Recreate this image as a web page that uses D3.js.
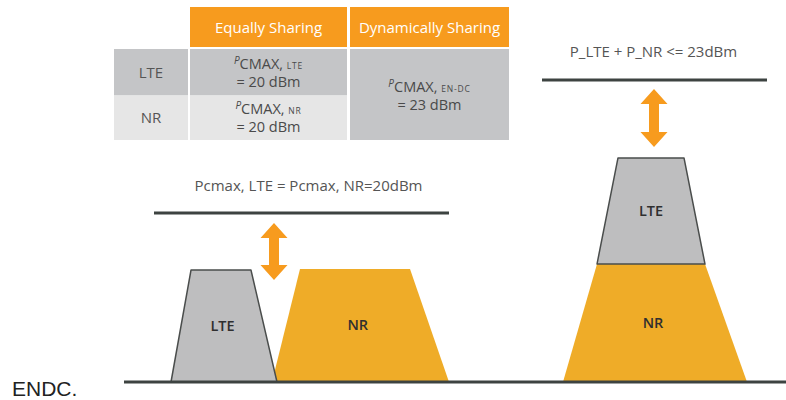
<!DOCTYPE html>
<html>
<head>
<meta charset="utf-8">
<script src="https://cdn.jsdelivr.net/npm/d3@7"></script>
<style>
  html, body { margin: 0; padding: 0; background: #fff; }
  svg { display: block; }
</style>
</head>
<body>
<svg id="chart" width="786" height="400"></svg>
<script>
// ---------- data ----------
const headers = ["Equally Sharing", "Dynamically Sharing"];
const rowLabels = ["LTE", "NR"];
const equalSym = ["CMAX,", "CMAX,"];
const equalSub = ["LTE", "NR"];
const equalVal = ["= 20 dBm", "= 20 dBm"];
const dynamicSub = "EN-DC";
const dynamicVal = "= 23 dBm";

const leftTitle = "Pcmax, LTE = Pcmax, NR=20dBm";
const rightTitle = "P_LTE + P_NR <= 23dBm";
const footLabel = "ENDC.";

// power levels (arbitrary units above the baseline)
const leftLimit = 56.3;
const rightLimit = 100.7;
const leftArrow = [34, 53];
const rightArrow = [78.3, 97.7];
// trapezoids: bottom-left, bottom-right, top-left, top-right x; bottom & top level
const trapezoids = [
  { name: "NR",  side: "left",  xb: [272, 449], xt: [300, 410], lv: [0, 37.7] },
  { name: "LTE", side: "left",  xb: [171, 277], xt: [191, 251], lv: [0, 37.3] },
  { name: "NR",  side: "right", xb: [563, 747], xt: [597, 705], lv: [0, 39.3] },
  { name: "LTE", side: "right", xb: [597, 705], xt: [618, 684], lv: [39.3, 74.7] }
];
const leftSpan = [154, 449];
const rightSpan = [542, 767];
const baseSpan = [124, 786];

// ---------- scales ----------
const x = d3.scaleLinear().domain([0, 786]).range([0, 786]);
const y = d3.scaleLinear().domain([0, 100]).range([382, 82]);

const svg = d3.select("#chart");
const ORANGE_H = "#F79B1E";
const ORANGE_NR = "#EFAC28";
const GRAY_D = "#C4C5C7";
const GRAY_L = "#E6E6E6";
const LINE = "#3D4341";
const tableFont = "'Open Sans', 'Noto Sans', sans-serif";

// ---------- table ----------
const colX = d3.scaleOrdinal().domain(["label", "equal", "dyn"]).range([[114, 188], [190, 347], [350, 509]]);
const rowY = d3.scaleOrdinal().domain(["head", "LTE", "NR"]).range([[7, 47], [49, 95.5], [95.5, 140]]);
const tbl = svg.append("g");

// header
headers.forEach((h, i) => {
  const c = colX(i === 0 ? "equal" : "dyn"), r = rowY("head");
  tbl.append("rect").attr("x", c[0]).attr("y", r[0]).attr("width", c[1] - c[0]).attr("height", r[1] - r[0]).attr("fill", ORANGE_H);
  tbl.append("text").attr("x", (c[0] + c[1]) / 2).attr("y", (r[0] + r[1]) / 2 + 5.5)
    .attr("text-anchor", "middle").attr("fill", "#fff").attr("font-family", tableFont)
    .attr("font-size", 15).text(h);
});

// rows
rowLabels.forEach((lab, i) => {
  const r = rowY(lab);
  const fill = i === 0 ? GRAY_D : GRAY_L;
  ["label", "equal"].forEach(k => {
    const c = colX(k);
    tbl.append("rect").attr("x", c[0]).attr("y", r[0]).attr("width", c[1] - c[0]).attr("height", r[1] - r[0]).attr("fill", fill);
  });
  const cl = colX("label");
  tbl.append("text").attr("x", (cl[0] + cl[1]) / 2).attr("y", (r[0] + r[1]) / 2 + 5.5)
    .attr("text-anchor", "middle").attr("fill", "#555").attr("font-family", tableFont)
    .attr("font-size", 15).text(lab);
  const ce = colX("equal");
  const cx = (ce[0] + ce[1]) / 2, cy = (r[0] + r[1]) / 2;
  const t1 = tbl.append("text").attr("x", cx).attr("y", cy - 3.5).attr("text-anchor", "middle")
    .attr("fill", "#4a4a4a").attr("font-family", tableFont).attr("font-size", 14.5);
  t1.append("tspan").attr("font-size", 10).attr("font-style", "italic").attr("dy", -5).text("P");
  t1.append("tspan").attr("dy", 5).text(equalSym[i] + " ");
  t1.append("tspan").attr("font-size", 8.5).attr("letter-spacing", 0.8).text(equalSub[i]);
  tbl.append("text").attr("x", cx).attr("y", cy + 14.5).attr("text-anchor", "middle")
    .attr("fill", "#4a4a4a").attr("font-family", tableFont).attr("font-size", 14.5).text(equalVal[i]);
});

// dynamic cell
{
  const c = colX("dyn"), r0 = rowY("LTE")[0], r1 = rowY("NR")[1];
  tbl.append("rect").attr("x", c[0]).attr("y", r0).attr("width", c[1] - c[0]).attr("height", r1 - r0).attr("fill", GRAY_D);
  const cx = (c[0] + c[1]) / 2, cy = (r0 + r1) / 2;
  const t1 = tbl.append("text").attr("x", cx).attr("y", cy - 2.5).attr("text-anchor", "middle")
    .attr("fill", "#4a4a4a").attr("font-family", tableFont).attr("font-size", 14.5);
  t1.append("tspan").attr("font-size", 10).attr("font-style", "italic").attr("dy", -5).text("P");
  t1.append("tspan").attr("dy", 5).text("CMAX, ");
  t1.append("tspan").attr("font-size", 8.5).attr("letter-spacing", 0.8).text(dynamicSub);
  tbl.append("text").attr("x", cx).attr("y", cy + 15.5).attr("text-anchor", "middle")
    .attr("fill", "#4a4a4a").attr("font-family", tableFont).attr("font-size", 14.5).text(dynamicVal);
}

// ---------- diagrams ----------
const g = svg.append("g");
const line = d3.line().x(d => x(d[0])).y(d => y(d[1]));

// trapezoids
trapezoids.forEach(t => {
  const pts = [[t.xb[0], t.lv[0]], [t.xt[0], t.lv[1]], [t.xt[1], t.lv[1]], [t.xb[1], t.lv[0]]];
  const isLte = t.name === "LTE";
  g.append("path").attr("d", line(pts) + "Z")
    .attr("fill", isLte ? "#BEBEBF" : ORANGE_NR)
    .attr("stroke", isLte ? "#4a4d4c" : "none")
    .attr("stroke-width", isLte ? 1.5 : 0)
    .attr("stroke-linejoin", "round");
  const cxm = x((t.xb[0] + t.xb[1] + t.xt[0] + t.xt[1]) / 4);
  const cym = y((t.lv[0] + t.lv[1]) / 2);
  g.append("text").attr("x", cxm).attr("y", cym + 5).attr("text-anchor", "middle")
    .attr("fill", "#2f2f2f").attr("font-family", tableFont).attr("font-weight", 600)
    .attr("font-size", 14.5).text(t.name);
});

// limit lines and baseline
[[leftSpan, leftLimit], [rightSpan, rightLimit]].forEach(([s, lv]) => {
  g.append("line").attr("x1", x(s[0])).attr("x2", x(s[1])).attr("y1", y(lv)).attr("y2", y(lv))
    .attr("stroke", LINE).attr("stroke-width", 3);
});
g.append("line").attr("x1", x(baseSpan[0])).attr("x2", x(baseSpan[1])).attr("y1", y(0)).attr("y2", y(0))
  .attr("stroke", LINE).attr("stroke-width", 3);

// arrows
function arrow(cx, lv) {
  const top = y(lv[1]), bot = y(lv[0]);
  const hw = 13.5, sw = 5, hl = 15;
  const pts = [
    [cx, top], [cx + hw, top + hl], [cx + sw, top + hl], [cx + sw, bot - hl], [cx + hw, bot - hl],
    [cx, bot], [cx - hw, bot - hl], [cx - sw, bot - hl], [cx - sw, top + hl], [cx - hw, top + hl]
  ];
  g.append("path").attr("d", "M" + pts.map(p => p.join(",")).join("L") + "Z").attr("fill", ORANGE_H);
}
arrow(x(274), leftArrow);
arrow(x(654), rightArrow);

// titles
g.append("text").attr("x", x((leftSpan[0] + leftSpan[1]) / 2) + 7).attr("y", y(leftLimit) - 22)
  .attr("text-anchor", "middle").attr("fill", "#555").attr("font-family", tableFont)
  .attr("font-size", 15).text(leftTitle);
g.append("text").attr("x", x((rightSpan[0] + rightSpan[1]) / 2) - 1).attr("y", y(rightLimit) - 23)
  .attr("text-anchor", "middle").attr("fill", "#555").attr("font-family", tableFont)
  .attr("font-size", 15).text(rightTitle);

svg.append("text").attr("x", 12).attr("y", 396).attr("fill", "#222")
  .attr("font-family", "'Liberation Sans', Arial, sans-serif").attr("font-size", 21).text(footLabel);
</script>
</body>
</html>
